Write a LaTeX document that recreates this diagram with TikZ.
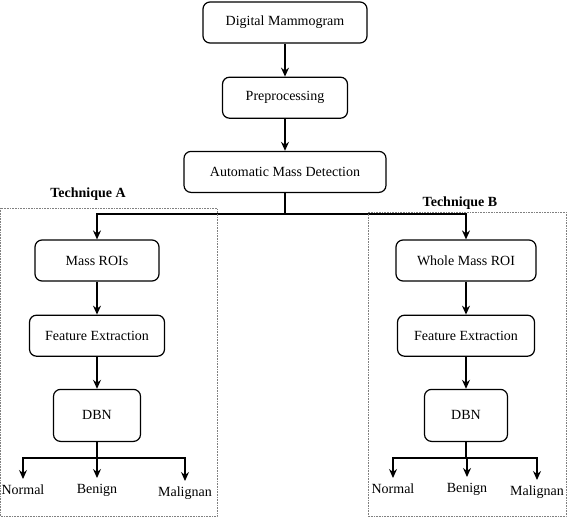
\documentclass[tikz,border=0pt]{standalone}
\usepackage{fontspec}
\setmainfont{Liberation Serif}
\usetikzlibrary{arrows.meta, positioning}

\begin{document}
\begin{tikzpicture}[
    x=1pt, y=-1pt,
    node distance=32pt,
    stage/.style={rectangle, draw, rounded corners=7pt, line width=1.2pt, minimum height=41pt, font=\fontsize{14}{16}\selectfont},
    outcome/.style={anchor=north, inner sep=0pt, text height=10pt, text depth=3pt, font=\fontsize{14}{16}\selectfont},
    title/.style={font=\fontsize{14}{16}\selectfont\bfseries},
    frame/.style={draw=gray, densely dotted, line width=0.6pt},
    link/.style={line width=1.2pt},
    arrow/.style={-{Stealth[length=9pt, width=8pt, inset=3pt]}, line width=1.2pt}
]
\useasboundingbox (0,0) rectangle (568,517);

% Common pipeline
\node[stage, minimum width=164pt] (mammo) at (285,22.5) {Digital Mammogram};
\node[stage, minimum width=125pt, below=33pt of mammo] (prep) {Preprocessing};
\node[stage, minimum width=202pt, below=32pt of prep] (detect) {Automatic Mass Detection};

\draw[arrow] (mammo) -- (prep);
\draw[arrow] (prep) -- (detect);

% Technique A
\node[title] (titleA) at (88,194) {Technique A};
\node[stage, minimum width=124pt] (roisA) at (97,260.5) {Mass ROIs};
\node[stage, minimum width=135pt, below=33pt of roisA] (featA) {Feature Extraction};
\node[stage, minimum width=87pt, minimum height=52pt, below=32pt of featA] (dbnA) {DBN};

\node[outcome] (normA) at (23,484) {Normal};
\node[outcome] (benA) at (97,483) {Benign};
\node[outcome] (malA) at (185,486) {Malignan};

% Technique B
\node[title] (titleB) at (460,203) {Technique B};
\node[stage, minimum width=140pt] (roisB) at (466,260.5) {Whole Mass ROI};
\node[stage, minimum width=137pt, below=33pt of roisB] (featB) {Feature Extraction};
\node[stage, minimum width=83pt, minimum height=52pt, below=32pt of featB] (dbnB) {DBN};

\node[outcome] (normB) at (393,483) {Normal};
\node[outcome] (benB) at (467,482) {Benign};
\node[outcome] (malB) at (537,485) {Malignan};

% Split after detection
\coordinate (split) at (285,214);
\draw[link] (detect) -- (split);
\draw[arrow] (split) -| (roisA);
\draw[arrow] (split) -| (roisB);

\draw[arrow] (roisA) -- (featA);
\draw[arrow] (featA) -- (dbnA);
\draw[arrow] (roisB) -- (featB);
\draw[arrow] (featB) -- (dbnB);

% Class outputs
\coordinate (forkA) at (97,458);
\coordinate (forkB) at (466,458);
\draw[link] (dbnA) -- (forkA);
\draw[link] (dbnB) -- (forkB);
\foreach \out in {normA, benA, malA}
    \draw[arrow, shorten >=5pt] (forkA) -| (\out.north);
\foreach \out in {normB, benB, malB}
    \draw[arrow, shorten >=5pt] (forkB) -| (\out.north);

% Technique frames
\draw[frame] (0.5,208) rectangle (217,516.5);
\draw[frame] (368,212) rectangle (566,516.5);

\end{tikzpicture}
\end{document}
